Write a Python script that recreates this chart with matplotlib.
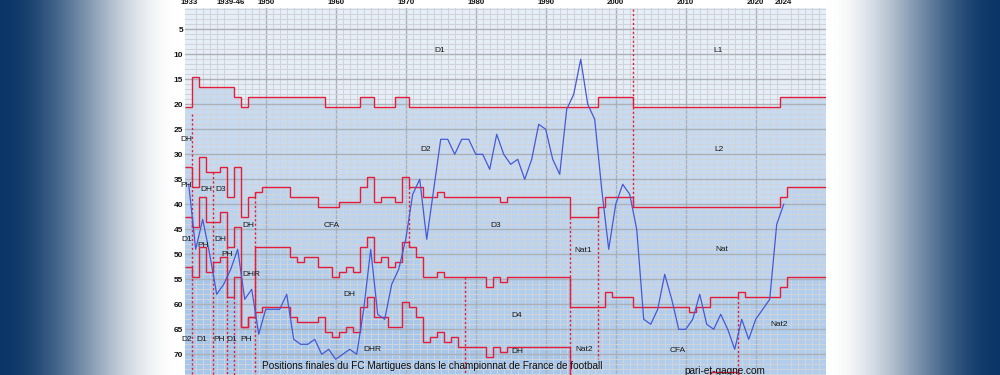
import numpy as np
import matplotlib
matplotlib.use("Agg")
import matplotlib.pyplot as plt

# seasons are labelled by their end year; the war gap (1940-45) is collapsed on the axis
def xpos(season):
    s = np.asarray(season, dtype=float)
    return np.where(s < 1940, s + 6, s)

# final position of the club (overall rank in the French pyramid)
YEARS = [1933, 1934, 1935, 1936, 1937, 1938, 1939,
         1946, 1947, 1948, 1949, 1950, 1951, 1952, 1953, 1954, 1955, 1956, 1957, 1958, 1959,
         1960, 1961, 1962, 1963, 1964, 1965, 1966, 1967, 1968, 1969, 1970, 1971, 1972, 1973,
         1974, 1975, 1976, 1977, 1978, 1979, 1980, 1981, 1982, 1983, 1984, 1985, 1986, 1987,
         1988, 1989, 1990, 1991, 1992, 1993, 1994, 1995, 1996, 1997, 1998, 1999, 2000, 2001,
         2002, 2003, 2004, 2005, 2006, 2007, 2008, 2009, 2010, 2011, 2012, 2013, 2014, 2015,
         2016, 2017, 2018, 2019, 2020, 2021, 2022, 2023, 2024]
POS = [36, 49, 43, 50, 58, 56, 53,
       49, 59, 57, 66, 61, 61, 61, 58, 67, 68, 68, 67, 70, 69,
       71, 70, 69, 70, 61, 49, 62, 63, 56, 53, 47, 38, 35, 47,
       37, 27, 27, 30, 27, 27, 30, 30, 33, 26, 30, 32, 31, 35,
       31, 24, 25, 31, 34, 21, 18, 11, 20, 23, 37, 49, 40, 36,
       38, 45, 63, 64, 61, 54, 59, 65, 65, 63, 58, 64, 65, 62,
       65, 69, 63, 67, 63, 61, 59, 44, 40]

# cumulative number of clubs above each division boundary: season it starts, value
L1_FROM = [1933, 1934, 1935, 1946, 1947, 1948, 1959, 1964, 1966, 1969, 1971, 1998, 2003, 2024]
L1_TEAMS = [20, 14, 16, 18, 20, 18, 20, 18, 20, 18, 20, 18, 20, 18]

L2_FROM = [1933, 1934, 1935, 1936, 1938, 1939, 1946, 1947, 1948, 1949, 1950, 1954, 1958,
           1961, 1964, 1965, 1966, 1967, 1969, 1970, 1971, 1973, 1975, 1976, 1984, 1985,
           1994, 1998, 1999, 2003, 2024, 2025]
L2_TEAMS = [32, 36, 30, 33, 32, 38, 32, 42, 38, 37, 36, 38, 40,
            39, 36, 34, 39, 38, 39, 34, 36, 38, 37, 38, 39, 38,
            42, 40, 38, 40, 38, 36]

L3_FROM = [1933, 1934, 1935, 1936, 1938, 1939, 1946, 1947, 1948, 1949, 1954, 1955, 1956,
           1958, 1960, 1961, 1962, 1963, 1964, 1965, 1966, 1967, 1968, 1969, 1970, 1971,
           1972, 1973, 1975, 1976, 1982, 1983, 1984, 1985, 1994, 1999, 2000, 2003, 2011,
           2012, 2014, 2018, 2019, 2024, 2025]
L3_TEAMS = [42, 44, 38, 43, 41, 48, 44, 64, 62, 48, 50, 51, 50,
            52, 54, 53, 52, 53, 48, 46, 51, 50, 52, 51, 47, 48,
            50, 54, 53, 54, 56, 54, 55, 54, 60, 57, 58, 60, 61,
            60, 58, 57, 58, 56, 54]

L4_FROM = [1933, 1934, 1935, 1936, 1937, 1938, 1939, 1946, 1947, 1948, 1949, 1950, 1954,
           1955, 1958, 1959, 1960, 1961, 1962, 1963, 1964, 1965, 1966, 1968, 1970, 1971,
           1972, 1973, 1974, 1975, 1976, 1977, 1978, 1982, 1983, 1984, 1985, 1994, 2014, 2018]
L4_TEAMS = [52, 54, 48, 53, 51, 50, 58, 54, 64, 62, 61, 60, 62,
            63, 62, 65, 66, 65, 64, 65, 60, 58, 62, 64, 59, 60,
            62, 67, 66, 65, 67, 66, 68, 70, 68, 69, 68, 80, 73, 80]

# division changes of the club (first season of the new level)
DASH_FROM = [1934, 1937, 1939, 1946, 1949, 1971, 1979, 1994, 1998, 2003, 2018]
DASH_TOP = [22, 33.5, 48.5, 58.5, 37.5, 36.5, 54.5, 42.5, 40.5, 1, 58.5]
DASH_BOTTOM = [75, 75, 75, 75, 75, 48.5, 75, 75, 71, 40.5, 75]

TICK_SEASONS = [1933, 1939, 1950, 1960, 1970, 1980, 1990, 2000, 2010, 2020, 2024]
TICK_LABELS = ["1933", "1939-46", "1950", "1960", "1970", "1980", "1990", "2000",
               "2010", "2020", "2024"]

DIV_TEXT = ["D1", "L1", "D2", "L2", "DH", "PH", "DH", "D3", "DH", "CFA", "D1", "PH", "DH",
            "PH", "DHR", "DH", "DHR", "D2", "D1", "PH", "D1", "PH", "D3", "Nat1", "Nat",
            "D4", "Nat2", "DH", "Nat2", "CFA"]
DIV_X = [1974.9, 2014.6, 1972.8, 2014.7, 1932.6, 1932.7, 1935.5, 1937.6, 1947.5, 1959.4,
         1932.7, 1935.0, 1937.5, 1938.5, 1947.9, 1961.9, 1965.3, 1932.7, 1934.9, 1937.4,
         1939.2, 1947.2, 1982.8, 1995.4, 2015.1, 1985.8, 2023.4, 1985.9, 1995.5, 2008.8]
DIV_Y = [9.3, 9.3, 29.1, 29.1, 27.1, 36.2, 37.1, 37.1, 44.3, 44.3,
         47.1, 48.2, 47.1, 50.1, 54.1, 58.1, 69.1, 67.1, 67.1, 67.1,
         67.1, 67.1, 44.2, 49.2, 49.1, 62.2, 64.1, 69.5, 69.1, 69.2]

RED = "#e41e3a"
BLUE = "#4659d6"
FILLS = ["#c6dbf2", "#bbd3ef", "#b0cdee", "#a6c6ec"]
X0, X1 = 1938.47, 2030.04

fig = plt.figure(figsize=(10, 3.75), dpi=100)

# dark blue side gradients behind everything
px = np.arange(1000)
t = np.ones(1000)
t[px < 178] = px[px < 178] / 178
t[px > 826] = (1000 - px[px > 826]) / 174
f = t * t * (3 - 2 * t)
navy = np.array([0.04, 0.21, 0.40])
row = navy[None, :] * (1 - f[:, None]) + f[:, None]
bg = fig.add_axes([0, 0, 1, 1], zorder=-5)
bg.imshow(row[None, :, :], aspect="auto", extent=[0, 1, 0, 1])
bg.axis("off")

ax = fig.add_axes([0.185, 0.0, 0.641, 1 - 8 / 375])
ax.set_facecolor("#e6eef8")

lines = [(L1_FROM, L1_TEAMS), (L2_FROM, L2_TEAMS), (L3_FROM, L3_TEAMS), (L4_FROM, L4_TEAMS)]
for i, (start, teams) in enumerate(lines):
    edges = np.append(xpos(start) - 0.5, X1 + 1)
    vals = np.asarray(teams) + 0.5
    ax.stairs(vals, edges, baseline=80, fill=True, color=FILLS[i], lw=0, zorder=0.1 + 0.05 * i)
    ax.stairs(vals, edges, baseline=None, color=RED, lw=1.0, zorder=2)

ax.vlines(xpos(DASH_FROM) - 0.5, DASH_TOP, DASH_BOTTOM, colors=RED, lw=1.0,
          linestyles=(0, (1.6, 1.6)), zorder=2)
ax.plot(xpos(YEARS), POS, color=BLUE, lw=0.9, zorder=3)

for s, x, y in zip(DIV_TEXT, DIV_X, DIV_Y):
    ax.text(float(xpos(x)), y, s, ha="center", va="center", fontsize=6,
            family="Liberation Sans", color="#1a1a1a", zorder=4)

# grid: every season / every place, darker each decade / 5 places
ax.set_xlim(X0, X1)
ax.set_ylim(74.14, 0.74)
ax.set_xticks(np.arange(1939, 2031), minor=True)
ax.set_yticks(np.arange(1, 75), minor=True)
ax.set_yticks(np.arange(5, 71, 5))
ax.set_xticks(xpos(TICK_SEASONS))
ax.set_xticklabels(TICK_LABELS)
ax.set_axisbelow(True)
ax.grid(which="minor", color="#d0d3d7", lw=0.75)
ax.grid(which="major", axis="y", color="#adb0b4", lw=1.0)
ax.vlines(np.arange(1950, 2021, 10), 0, 80, colors="#adb0b4", lw=1.0, zorder=0.5)
ax.xaxis.tick_top()
ax.tick_params(which="both", length=0)
ax.tick_params(axis="x", pad=1.2, labelsize=5.6)
ax.tick_params(axis="y", pad=1.5, labelsize=6)
for lab in ax.get_xticklabels() + ax.get_yticklabels():
    lab.set_family("Liberation Sans")
    lab.set_fontweight("bold")
    lab.set_color("#111111")
for sp in ax.spines.values():
    sp.set_visible(False)

fig.text(0.432, 1 - 366 / 375, "Positions finales du FC Martigues dans le championnat de France de football",
         ha="center", va="center", fontsize=7.2, family="Liberation Sans", color="#111111")
fig.text(0.725, 1 - 371 / 375, "pari-et-gagne.com", ha="center", va="center", fontsize=7.2,
         family="Liberation Sans", color="#111111")

fig.savefig("out.png", dpi=100)
